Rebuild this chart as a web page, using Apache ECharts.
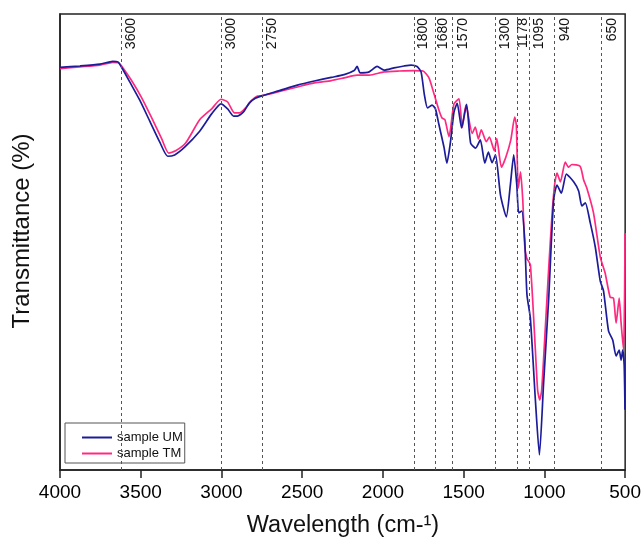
<!DOCTYPE html>
<html>
<head>
<meta charset="utf-8">
<script src="https://cdn.jsdelivr.net/npm/echarts@6/dist/echarts.min.js"></script>
<style>
html,body{margin:0;padding:0;background:#fff;}
#c{width:644px;height:540px;}
</style>
</head>
<body>
<div id="c"></div>
<script>
// ---- data ----
const umWn = [4000,3877,3753,3673,3642,3617,3568,3506,3444,3382,3333,3290,3228,3135,3061,3003,2962,2925,2901,2864,2827,2790,2746,2641,2530,2425,2320,2240,2178,2160,2141,2085,2036,1993,1931,1869,1826,1789,1764,1743,1724,1696,1675,1653,1622,1604,1582,1560,1540,1513,1482,1457,1426,1397,1369,1347,1324,1303,1272,1236,1211,1190,1171,1159,1140,1122,1108,1087,1056,1031,1005,974,943,922,895,864,819,788,768,747,716,685,654,634,603,577,556,537,525,515,506,501];
const umT  = [88.3,88.6,89.0,89.6,89.5,88.2,85.1,81.1,76.5,71.9,68.8,69.1,70.8,74.3,78.1,80.3,79.2,77.6,77.6,78.5,80.5,81.5,82.1,83.2,84.4,85.3,86.1,86.7,87.6,88.5,87.1,87.3,88.5,87.7,88.2,88.6,88.8,88.5,87.3,82.2,79.4,80.0,79.2,75.7,70.8,67.3,71.9,78.5,80.4,75.0,80.2,71.7,70.6,72.4,67.3,69.7,67.4,69.1,60.3,55.5,62.5,69.1,62.5,56.4,56.8,50.4,38.4,33.3,15.4,3.3,19.1,37.3,59.2,62.5,60.7,64.9,63.2,61.2,57.9,58.6,54.2,48.9,41.4,39.3,30.5,28.5,25.0,26.3,24.1,26.3,23.0,13.2];
const tmWn = [4000,3877,3753,3673,3636,3611,3555,3494,3432,3370,3327,3284,3222,3135,3061,3003,2962,2919,2888,2851,2814,2777,2746,2641,2530,2425,2320,2240,2160,2085,1993,1900,1807,1752,1715,1684,1653,1634,1616,1591,1560,1529,1509,1486,1447,1428,1409,1391,1360,1341,1310,1295,1266,1239,1208,1184,1174,1162,1148,1134,1122,1110,1087,1056,1042,1029,1017,994,974,953,937,922,901,871,850,830,779,757,737,696,654,624,593,572,556,537,525,510,503,501];
const tmT  = [88.0,88.4,88.8,89.4,89.3,88.2,85.3,81.6,77.2,72.6,69.5,70.0,71.7,76.8,79.2,81.3,80.7,78.3,78.3,79.4,81.0,82.0,82.1,83.0,84.0,84.9,85.4,86.0,86.6,86.6,87.3,87.5,87.6,87.5,86.0,82.5,78.9,77.2,76.8,73.1,80.3,81.4,75.1,80.0,73.8,75.2,72.6,74.6,72.0,73.0,70.0,72.7,66.4,68.6,72.4,77.4,75.7,61.8,65.4,59.2,49.3,46.5,45.0,26.3,17.5,15.4,17.5,31.4,43.9,55.9,62.5,65.1,63.2,67.5,66.4,67.0,66.6,63.6,61.8,56.4,46.7,43.2,37.9,37.7,32.2,37.7,32.2,26.3,40.0,52.0];
const peakPos    = [3620,3000,2750,1805,1678,1568,1302,1170,1092,942,648];
const peakLabels = ["3600","3000","2750","1800","1680","1570","1300","1178","1095","940","650"];
const xTicks = [4000,3500,3000,2500,2000,1500,1000,500];
const seriesNames = ["sample UM","sample TM"];

// ---- style ----
const labelDx = [10,10,10,8.5,8,10,9,6.5,9.5,11,11];
const FONT = "'Liberation Sans', Arial, Helvetica, sans-serif";
const BLUE = "#1c1c9a", PINK = "#ff2a80";

const chart = echarts.init(document.getElementById('c'), null, {renderer:'canvas'});
const zip = (a,b)=>a.map((v,i)=>[v,b[i]]);

chart.setOption({
  animation:false,
  grid:{left:60,right:17,top:14,bottom:70,show:true,borderColor:'#222',borderWidth:1.5,backgroundColor:'transparent'},
  xAxis:{type:'value',min:500,max:4000,interval:500,inverse:true,
    axisLine:{show:true,onZero:false,lineStyle:{color:'#222',width:1.5}},
    axisTick:{show:true,inside:false,length:8,lineStyle:{color:'#222',width:1.5}},
    axisLabel:{fontSize:19,color:'#000',fontFamily:FONT,margin:13,showMinLabel:true,showMaxLabel:true,
      formatter:v=>(xTicks.indexOf(v)>=0?String(v):'')},
    splitLine:{show:false}},
  yAxis:{type:'value',min:0,max:100,
    axisLine:{show:true,lineStyle:{color:'#222',width:1.5}},
    axisTick:{show:false},axisLabel:{show:false},splitLine:{show:false}},
  legend:{orient:'vertical',left:65,top:423,borderColor:'#555',borderWidth:1,
    padding:[7,2,2,17],itemWidth:30,itemHeight:2,itemGap:1,
    textStyle:{fontSize:13,color:'#111',fontFamily:FONT,lineHeight:15},
    data:[{name:seriesNames[0],icon:'rect'},{name:seriesNames[1],icon:'rect'}]},
  series:[
    {name:seriesNames[1],type:'line',data:zip(tmWn,tmT),showSymbol:false,smooth:0.2,
     lineStyle:{color:PINK,width:1.7},itemStyle:{color:PINK},z:2,
     markLine:{silent:true,symbol:'none',label:{show:false},
       lineStyle:{color:'#555',type:[3,3],width:1},
       data:peakPos.map(v=>({xAxis:v}))}},
    {name:seriesNames[0],type:'line',data:zip(umWn,umT),showSymbol:false,smooth:0.2,
     lineStyle:{color:BLUE,width:1.7},itemStyle:{color:BLUE},z:3}
  ]
});

const g = [];
peakPos.forEach((v,i)=>{
  const px = chart.convertToPixel({xAxisIndex:0}, v);
  g.push({type:'text',x:px+labelDx[i],y:18,rotation:Math.PI/2,
    style:{text:peakLabels[i],fontSize:14,fontFamily:FONT,fill:'#111',align:'right',verticalAlign:'middle'}});
});
g.push({type:'text',x:22,y:231,rotation:Math.PI/2,
  style:{text:'Transmittance (%)',fontSize:24,fontFamily:FONT,fill:'#111',align:'center',verticalAlign:'middle'}});
g.push({type:'text',x:343,y:526,
  style:{text:'Wavelength (cm-¹)',fontSize:23.5,fontFamily:FONT,fill:'#111',align:'center',verticalAlign:'middle'}});
chart.setOption({graphic:g});
</script>
</body>
</html>
